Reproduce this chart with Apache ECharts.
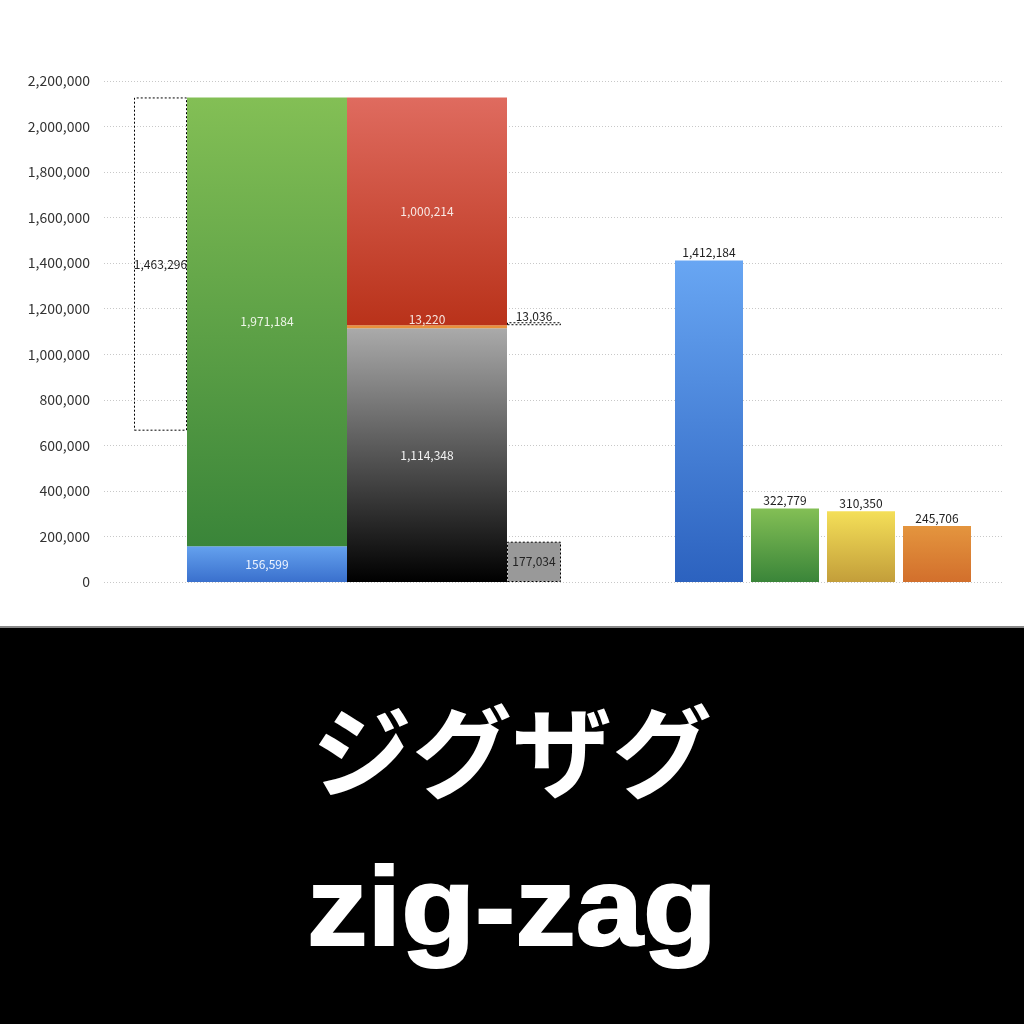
<!DOCTYPE html>
<html>
<head>
<meta charset="utf-8">
<script src="https://cdn.jsdelivr.net/npm/echarts@6/dist/echarts.min.js"></script>
<style>
html,body{margin:0;padding:0;background:#fff;}
#c{width:1024px;height:1024px;}
</style>
</head>
<body>
<div id="c"></div>
<script>
// ---- data ----
const yMin = 0, yMax = 2200000, yInterval = 200000;
const leftCategories = [''];
const dottedDrop = 1463296;           // dotted outline bar at far left
const stackGreenBlue = [156599, 1971184]; // blue (bottom), green (top)
const stackGrayRed = [1114348, 13220, 1000214]; // gray, orange, red
const smallBox = 177034;              // gray dotted box
const dottedSlab = 13036;             // thin dotted slab
const rightCategories = ['1', '2', '3', '4'];
const rightValues = [1412184, 322779, 310350, 245706];
const titleJa = 'ジグザグ';
const titleEn = 'zig-zag';

// ---- derived ----
const totalGB = stackGreenBlue[0] + stackGreenBlue[1];
const dropBase = totalGB - dottedDrop;
const slabBase = stackGrayRed[0] + stackGrayRed[1] - smallBox;

const fmt = v => v.toLocaleString('en-US');
const grad = (a, b) => new echarts.graphic.LinearGradient(0, 0, 0, 1, [{offset: 0, color: a}, {offset: 1, color: b}]);
const FONT = '"Noto Sans CJK JP", "Noto Sans", sans-serif';
const lab = (color, pos, extra) => Object.assign({show: true, position: pos, color: color, fontSize: 12, fontFamily: FONT, formatter: p => fmt(p.value)}, extra || {});
const noLab = {show: false};
const dotted = [2, 2];

const rightColors = [
  ['#68a6f3', '#2c62bf'],
  ['#83bf55', '#3a8539'],
  ['#f4df58', '#c39e3a'],
  ['#e4953e', '#d26f2c']
];

const gridTop = 81, gridBottom = 442;

const option = {
  backgroundColor: '#fff',
  animation: false,
  grid: [
    {left: 104, right: 20, top: gridTop, bottom: gridBottom},
    {left: 134, width: 427, top: gridTop, bottom: gridBottom},
    {left: 671, width: 304, top: gridTop, bottom: gridBottom}
  ],
  xAxis: [
    {type: 'category', gridIndex: 0, data: leftCategories, show: false},
    {type: 'category', gridIndex: 1, data: leftCategories, show: false},
    {type: 'category', gridIndex: 2, data: rightCategories, show: false}
  ],
  yAxis: [
    {type: 'value', gridIndex: 0, min: yMin, max: yMax, interval: yInterval,
     axisLine: {show: false}, axisTick: {show: false},
     axisLabel: {color: '#333', fontSize: 14, margin: 14, fontFamily: FONT, formatter: v => fmt(v)},
     splitLine: {show: true, lineStyle: {color: '#c8c8c8', type: [1, 2], width: 1}}},
    {type: 'value', gridIndex: 1, min: yMin, max: yMax, interval: yInterval, show: false, splitLine: {show: false}},
    {type: 'value', gridIndex: 2, min: yMin, max: yMax, interval: yInterval, show: false, splitLine: {show: false}}
  ],
  series: [
    // stack d1: dotted drop
    {type: 'bar', xAxisIndex: 1, yAxisIndex: 1, stack: 'd1', barWidth: 53, barGap: '0%', data: [dropBase],
     itemStyle: {color: 'transparent'}, label: noLab, silent: true},
    {type: 'bar', xAxisIndex: 1, yAxisIndex: 1, stack: 'd1', barWidth: 53, barGap: '0%', data: [dottedDrop],
     itemStyle: {color: 'rgba(255,255,255,0)', borderColor: '#000', borderWidth: 1, borderType: dotted},
     label: lab('#222', 'inside')},
    // stack b: blue + green
    {type: 'bar', xAxisIndex: 1, yAxisIndex: 1, stack: 'b', barWidth: 160, barGap: '0%', data: [stackGreenBlue[0]],
     itemStyle: {color: grad('#64a1ee', '#3a70cd')}, label: lab('#eef4ff', 'inside')},
    {type: 'bar', xAxisIndex: 1, yAxisIndex: 1, stack: 'b', barWidth: 160, barGap: '0%', data: [stackGreenBlue[1]],
     itemStyle: {color: grad('#83bf55', '#3a8539')}, label: lab('#eef6e8', 'inside')},
    // stack c: gray + orange + red
    {type: 'bar', xAxisIndex: 1, yAxisIndex: 1, stack: 'c', barWidth: 160, barGap: '0%', data: [stackGrayRed[0]],
     itemStyle: {color: grad('#aaaaaa', '#000000')}, label: lab('#f2f2f2', 'inside')},
    {type: 'bar', xAxisIndex: 1, yAxisIndex: 1, stack: 'c', barWidth: 160, barGap: '0%', data: [stackGrayRed[1]],
     itemStyle: {color: '#e8913c'}, label: lab('#f6e6df', 'top', {distance: 0})},
    {type: 'bar', xAxisIndex: 1, yAxisIndex: 1, stack: 'c', barWidth: 160, barGap: '0%', data: [stackGrayRed[2]],
     itemStyle: {color: grad('#df6b5f', '#b9321a')}, label: lab('#f8e8e4', 'inside')},
    // stack e: small gray box + gap + dotted slab
    {type: 'bar', xAxisIndex: 1, yAxisIndex: 1, stack: 'e', barWidth: 54, barGap: '0%', data: [smallBox],
     itemStyle: {color: '#999999', borderColor: '#000', borderWidth: 1, borderType: dotted},
     label: lab('#222', 'inside')},
    {type: 'bar', xAxisIndex: 1, yAxisIndex: 1, stack: 'e', barWidth: 54, barGap: '0%', data: [slabBase],
     itemStyle: {color: 'transparent'}, label: noLab, silent: true},
    {type: 'bar', xAxisIndex: 1, yAxisIndex: 1, stack: 'e', barWidth: 54, barGap: '0%', data: [dottedSlab],
     itemStyle: {color: 'rgba(255,255,255,0)', borderColor: '#000', borderWidth: 1, borderType: dotted},
     label: lab('#222', 'top', {distance: 0})},
    // right group
    {type: 'bar', xAxisIndex: 2, yAxisIndex: 2, barWidth: 68,
     data: rightValues.map((v, i) => ({value: v, itemStyle: {color: grad(rightColors[i][0], rightColors[i][1])}})),
     label: lab('#222', 'top', {distance: 2})}
  ],
  graphic: [
    {type: 'rect', shape: {x: 0, y: 626, width: 1024, height: 2}, style: {fill: '#888'}, silent: true},
    {type: 'rect', shape: {x: 0, y: 628, width: 1024, height: 396}, style: {fill: '#000'}, silent: true},
    {type: 'text', x: 512, y: 752, style: {text: titleJa, fill: '#fff', font: 'bold 100px "Noto Sans CJK JP"', textAlign: 'center', textVerticalAlign: 'middle'}},
    {type: 'text', x: 512, y: 914, scaleX: 1.08, originX: 0, originY: 0, style: {text: titleEn, fill: '#fff', font: 'bold 112px "Liberation Sans", Arial, sans-serif', textAlign: 'center', textVerticalAlign: 'middle', stroke: '#fff', lineWidth: 2}}
  ]
};

const chart = echarts.init(document.getElementById('c'), null, {renderer: 'canvas'});
chart.setOption(option);
</script>
</body>
</html>
